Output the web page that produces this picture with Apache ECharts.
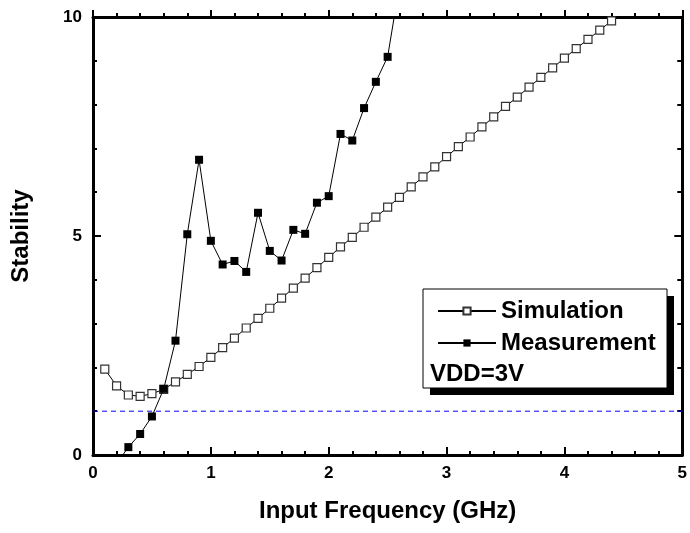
<!DOCTYPE html>
<html>
<head>
<meta charset="utf-8">
<script src="https://cdn.jsdelivr.net/npm/echarts@6/dist/echarts.min.js"></script>
<style>
  html, body { margin: 0; padding: 0; background: #fff; }
  #chart { width: 690px; height: 533px; }
</style>
</head>
<body>
<div id="chart"></div>
<script>
// simulation, open squares
var simFreq = [0.1, 0.2, 0.3, 0.4, 0.5, 0.6, 0.7, 0.8, 0.9, 1.0,
               1.1, 1.2, 1.3, 1.4, 1.5, 1.6, 1.7, 1.8, 1.9, 2.0,
               2.1, 2.2, 2.3, 2.4, 2.5, 2.6, 2.7, 2.8, 2.9, 3.0,
               3.1, 3.2, 3.3, 3.4, 3.5, 3.6, 3.7, 3.8, 3.9, 4.0,
               4.1, 4.2, 4.3, 4.4];
var simStab = [1.96, 1.58, 1.37, 1.34, 1.40, 1.50, 1.67, 1.84, 2.02, 2.23,
               2.45, 2.67, 2.90, 3.12, 3.35, 3.58, 3.81, 4.04, 4.28, 4.51,
               4.75, 4.97, 5.20, 5.43, 5.66, 5.88, 6.12, 6.35, 6.58, 6.81,
               7.04, 7.26, 7.49, 7.72, 7.96, 8.17, 8.40, 8.62, 8.84, 9.06,
               9.28, 9.49, 9.70, 9.91];

// measurement, filled squares (first and last fall outside the frame)
var measFreq = [0.2, 0.3, 0.4, 0.5, 0.6, 0.7, 0.8, 0.9, 1.0, 1.1,
                1.2, 1.3, 1.4, 1.5, 1.6, 1.7, 1.8, 1.9, 2.0, 2.1,
                2.2, 2.3, 2.4, 2.5, 2.6];
var measStab = [-0.2, 0.18, 0.48, 0.88, 1.51, 2.61, 5.04, 6.74, 4.89, 4.35,
                4.43, 4.18, 5.53, 4.66, 4.44, 5.14, 5.05, 5.76, 5.91, 7.33,
                7.18, 7.92, 8.52, 9.09, 10.72];

// blue dashed reference level
var refLevel = 1;

var seriesNames = ['Simulation', 'Measurement'];
var noteText = 'VDD=3V';

function pairs(xs, ys) {
  var out = [];
  for (var i = 0; i < xs.length; i++) out.push([xs[i], ys[i]]);
  return out;
}

var font = '"Liberation Sans", Arial, sans-serif';

var axisLine = { show: true, onZero: false, lineStyle: { color: '#000', width: 3 } };

var option = {
  animation: false,
  backgroundColor: '#fff',
  grid: { left: 93, right: 5, top: 17, bottom: 78 },
  legend: {
    data: seriesNames,
    orient: 'vertical',
    left: 437,
    top: 299,
    padding: 0,
    z: 8,
    itemWidth: 58,
    itemHeight: 9,
    itemGap: 8,
    textStyle: { fontFamily: font, fontSize: 24, fontWeight: 'bold', color: '#000', lineHeight: 24 }
  },
  xAxis: [
    {
      type: 'value', min: 0, max: 5, interval: 1, position: 'bottom',
      name: 'Input Frequency (GHz)', nameLocation: 'middle', nameGap: 44,
      nameTextStyle: { fontFamily: font, fontSize: 24, fontWeight: 'bold', color: '#000' },
      axisLine: axisLine,
      axisTick: { inside: true, length: 8, lineStyle: { color: '#000', width: 2 } },
      minorTick: { show: true, splitNumber: 5, length: 4, lineStyle: { color: '#000', width: 2 } },
      axisLabel: { margin: 10, fontFamily: font, fontSize: 17, fontWeight: 'bold', color: '#000' },
      splitLine: { show: false }
    },
    {
      type: 'value', min: 0, max: 5, interval: 1, position: 'top',
      axisLine: axisLine,
      axisTick: { inside: false, length: 7, lineStyle: { color: '#000', width: 2 } },
      minorTick: { show: true, splitNumber: 5, length: 4, lineStyle: { color: '#000', width: 2 } },
      axisLabel: { show: false },
      splitLine: { show: false }
    }
  ],
  yAxis: [
    {
      type: 'value', min: 0, max: 10, interval: 5, position: 'left',
      name: 'Stability', nameLocation: 'middle', nameGap: 60, nameRotate: 90,
      nameTextStyle: { fontFamily: font, fontSize: 24, fontWeight: 'bold', color: '#000' },
      axisLine: axisLine,
      axisTick: { inside: true, length: 8, lineStyle: { color: '#000', width: 2 } },
      minorTick: { show: true, splitNumber: 5, length: 4, lineStyle: { color: '#000', width: 2 } },
      axisLabel: { margin: 11, fontFamily: font, fontSize: 17, fontWeight: 'bold', color: '#000' },
      splitLine: { show: false }
    },
    {
      type: 'value', min: 0, max: 10, interval: 5, position: 'right',
      axisLine: axisLine,
      axisTick: { inside: true, length: 8, lineStyle: { color: '#000', width: 2 } },
      minorTick: { show: true, splitNumber: 5, length: 5, lineStyle: { color: '#000', width: 2 } },
      axisLabel: { show: false },
      splitLine: { show: false }
    }
  ],
  series: [
    {
      name: seriesNames[0],
      type: 'line',
      data: pairs(simFreq, simStab),
      symbol: 'rect',
      symbolSize: 8,
      showAllSymbol: true,
      lineStyle: { color: '#000', width: 1 },
      itemStyle: { color: '#fff', borderColor: '#333', borderWidth: 1.2 },
      z: 3
    },
    {
      name: seriesNames[1],
      type: 'line',
      data: pairs(measFreq, measStab),
      symbol: 'rect',
      symbolSize: 8,
      showAllSymbol: true,
      lineStyle: { color: '#000', width: 1 },
      itemStyle: { color: '#000' },
      z: 4
    },
    {
      // dashed reference level drawn as its own line across the frame
      name: 'ref',
      type: 'line',
      data: [[0, refLevel], [5, refLevel]],
      symbol: 'none',
      silent: true,
      lineStyle: { color: '#0000ff', width: 1, type: [5, 4] },
      z: 2
    }
  ],
  graphic: [
    // legend frame with its hard black shadow
    { type: 'rect', z: 5, shape: { x: 430, y: 296, width: 244, height: 99 }, style: { fill: '#000' } },
    { type: 'rect', z: 6, shape: { x: 423, y: 289, width: 244, height: 99 }, style: { fill: '#fff', stroke: '#000', lineWidth: 1 } },
    {
      type: 'text', z: 7, left: 430, top: 362,
      style: { text: noteText, fontFamily: font, fontSize: 24, fontWeight: 'bold', fill: '#000' }
    }
  ]
};

var chart = echarts.init(document.getElementById('chart'));
chart.setOption(option);
</script>
</body>
</html>
